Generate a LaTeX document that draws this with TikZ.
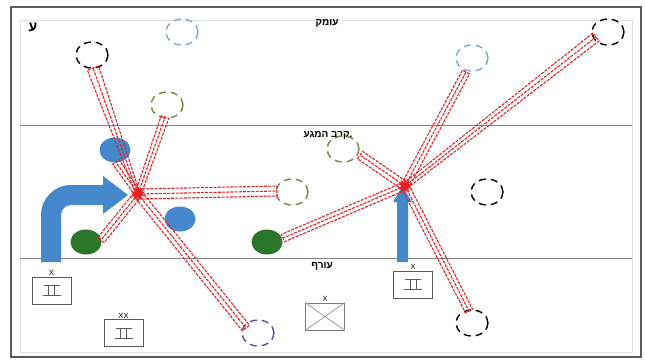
\documentclass[tikz,border=0pt]{standalone}
\usepackage{fontspec}
\setmainfont{Liberation Sans}
\newfontfamily\heb[Script=Hebrew]{Liberation Sans}
\TeXXeTstate=1
\usetikzlibrary{calc,shapes.geometric}
\definecolor{fireRed}{RGB}{232,32,36}
\definecolor{unitBlue}{RGB}{70,136,204}
\definecolor{lightBlue}{RGB}{125,168,212}
\definecolor{unitGreen}{RGB}{44,118,44}
\definecolor{oliveC}{RGB}{112,140,64}
\definecolor{purpleC}{RGB}{102,72,170}
\definecolor{frameGray}{RGB}{90,90,90}
\definecolor{lineGray}{RGB}{130,130,130}
\tikzset{
  tgt/.style={ellipse, draw, line width=1.4pt, dash pattern=on 7pt off 5pt, minimum width=32pt, minimum height=26pt, inner sep=0pt},
  unit/.style={ellipse, minimum width=31pt, minimum height=25pt, inner sep=0pt},
  fire/.style={draw=fireRed, line width=1.1pt, dash pattern=on 3pt off 1.2pt},
  burst/.style={star, star points=10, star point ratio=2.4, fill=fireRed, draw=fireRed, minimum size=14pt, inner sep=0pt},
  ubox/.style={draw=frameGray, line width=0.8pt, minimum width=39pt, minimum height=27pt, inner sep=0pt},
  symline/.style={draw=frameGray, line width=0.8pt},
  lbl/.style={font=\fontsize{7.5}{8}\selectfont, inner sep=0.5pt},
  heblbl/.style={font=\heb\bfseries\fontsize{10}{12}\selectfont, inner sep=0pt},
  bluearrow/.style={fill=unitBlue, draw=none}
}
\newcommand\fireband[4]{%
  \draw[fire] ($(#1)!#3!90:(#2)$) -- ($(#2)!#4!-90:(#1)$) -- ($(#2)!#4!90:(#1)$) -- ($(#1)!#3!-90:(#2)$) -- cycle;
  \draw[fire] (#1) -- (#2);
}
\newcommand\engsym[1]{%
  \draw[symline] ($(#1)+(-8,-5)$) -- ($(#1)+(8,-5)$);
  \draw[symline] ($(#1)+(-9,5)$) -- ($(#1)+(9,5)$);
  \draw[symline] ($(#1)+(-3,-5)$) -- ($(#1)+(-3,5)$);
  \draw[symline] ($(#1)+(3,-5)$) -- ($(#1)+(3,5)$);
}
\begin{document}
\begin{tikzpicture}[x=1pt,y=-1pt]
\useasboundingbox (0,0) rectangle (645,360);
\fill[white] (0,0) rectangle (645,360);
% frame
\draw[frameGray, line width=1.4pt] (11,7) rectangle (641,357);
\draw[black!12, line width=0.6pt] (20,20) rectangle (632,352);
% zone lines
\draw[lineGray, line width=1pt] (20,125) -- (632,125);
\draw[lineGray, line width=1pt] (20,258) -- (632,258);

% texts
\node[heblbl, font=\heb\bfseries\fontsize{14}{14}\selectfont] (ayin) at (33,27) {\beginR ע\endR};
\node[heblbl] (depth) at (327,23) {\beginR עומק\endR};
\node[heblbl] (contact) at (328,135) {\beginR .קרב המגע\endR};
\node[heblbl] (rear) at (322,266) {\beginR עורף\endR};

% blue manoeuvre arrows
\path[bluearrow] (41,262) -- (41,215) arc[start angle=180, end angle=270, radius=30]
  -- (103,185) -- (103,176) -- (128,195) -- (103,214) -- (103,205) -- (71,205)
  arc[start angle=270, end angle=180, radius=10] -- (61,262) -- cycle;
\path[bluearrow] (397,262) -- (397,202) -- (393,202) -- (402.5,186) -- (412,202) -- (408,202) -- (408,262) -- cycle;

% own units
\node[unit, fill=unitBlue] (b1) at (115,150) {};
\node[unit, fill=unitBlue] (b2) at (180,219) {};
\node[unit, fill=unitGreen] (g1) at (86,242) {};
\node[unit, fill=unitGreen] (g2) at (267,242) {};

% targets
\node[tgt, draw=black] (c1) at (92,55) {};
\node[tgt, draw=lightBlue] (c2) at (182,32) {};
\node[tgt, draw=oliveC] (c3) at (167,105) {};
\node[tgt, draw=lightBlue] (c4) at (472,58) {};
\node[tgt, draw=black] (c5) at (608,32) {};
\node[tgt, draw=oliveC] (c6) at (343,149) {};
\node[tgt, draw=oliveC] (c7) at (292,192) {};
\node[tgt, draw=black] (c8) at (487,192) {};
\node[tgt, draw=black] (c9) at (472,323) {};
\node[tgt, draw=purpleC] (c10) at (258,333) {};

% fire band end points
\coordinate (S1) at (138,194);
\coordinate (S2) at (405,186);
\coordinate (e1) at (93,68);
\coordinate (eb1) at (116,162);
\coordinate (e3) at (165,117);
\coordinate (e7) at (277,191);
\coordinate (eg1) at (101,240);
\coordinate (e10) at (246,328);
\coordinate (eg2) at (283,238);
\coordinate (e6) at (360,155);
\coordinate (e4) at (466,72);
\coordinate (e5) at (596,37);
\coordinate (e9) at (469,311);

% fire bands (left)
\fireband{S1}{e1}{2pt}{6pt}
\fireband{S1}{eb1}{3pt}{4pt}
\fireband{S1}{e3}{3pt}{4pt}
\fireband{S1}{e7}{5pt}{5pt}
\fireband{S1}{eg1}{4pt}{4pt}
\fireband{S1}{e10}{4.5pt}{4.5pt}
% fire bands (right)
\fireband{S2}{eg2}{4pt}{4pt}
\fireband{S2}{e6}{4.5pt}{4.5pt}
\fireband{S2}{e4}{4pt}{4pt}
\fireband{S2}{e5}{3pt}{5pt}
\fireband{S2}{e9}{4pt}{4pt}

\node[burst] (s1) at (S1) {};
\node[burst] (s2) at (S2) {};

% unit symbols
\node[ubox] (u1) at (51.5,290.5) {};
\node[lbl, anchor=south] (u1l) at (u1.north) {X};
\engsym{u1}
\node[ubox] (u2) at (123.5,333) {};
\node[lbl, anchor=south] (u2l) at (u2.north) {XX};
\engsym{u2}
\node[ubox] (u3) at (413,284.5) {};
\node[lbl, anchor=south] (u3l) at (u3.north) {X};
\engsym{u3}
\node[ubox, draw=frameGray!80] (u4) at (325,316.5) {};
\node[lbl, anchor=south] (u4l) at (u4.north) {X};
\draw[symline, draw=frameGray!60] (u4.north west) -- (u4.south east) (u4.north east) -- (u4.south west);
\end{tikzpicture}
\end{document}
